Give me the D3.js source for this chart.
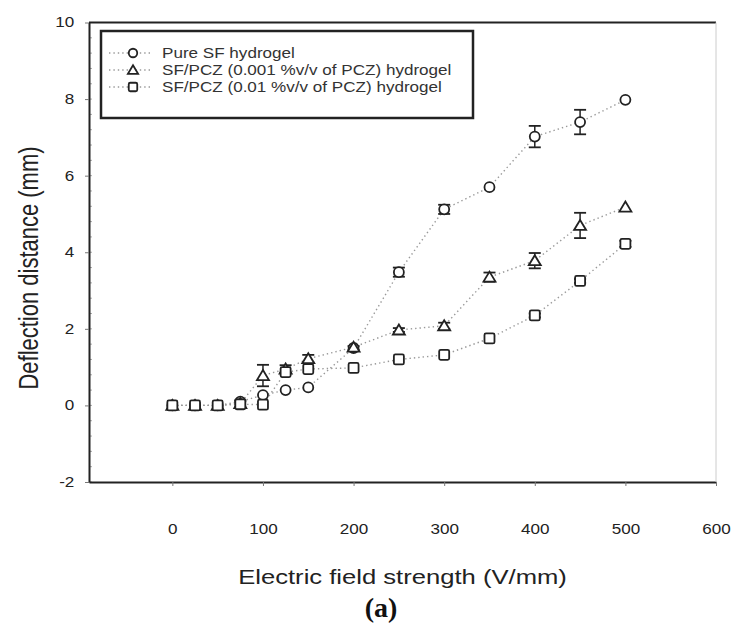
<!DOCTYPE html>
<html>
<head>
<meta charset="utf-8">
<script src="https://cdn.jsdelivr.net/npm/d3@7"></script>
<style>
  body { margin: 0; background: #fff; }
</style>
</head>
<body>
<script>
// field strength (V/mm)
const fieldStrength = [0, 25, 50, 75, 100, 125, 150, 200, 250, 300, 350, 400, 450, 500];

// deflection (mm) and error bars per sample
const pureSF = [0, 0, 0, 0.1, 0.27, 0.4, 0.47, 1.5, 3.48, 5.12, 5.7, 7.02, 7.4, 7.98];
const pureSFErr = [0, 0, 0, 0, 0, 0, 0, 0.05, 0.12, 0.12, 0, 0.28, 0.32, 0];
const pcz001 = [0, 0, 0, 0.05, 0.78, 0.95, 1.22, 1.52, 1.97, 2.08, 3.35, 3.78, 4.7, 5.18];
const pcz001Err = [0, 0, 0, 0, 0.28, 0.1, 0.1, 0, 0.05, 0.08, 0.12, 0.2, 0.33, 0];
const pcz01 = [0, 0, 0, 0.03, 0.02, 0.87, 0.95, 0.98, 1.2, 1.32, 1.75, 2.35, 3.25, 4.22];
const pcz01Err = [0, 0, 0, 0.1, 0, 0, 0, 0, 0, 0, 0, 0.05, 0.05, 0.08];

const seriesNames = [
  "Pure SF hydrogel",
  "SF/PCZ (0.001 %v/v of PCZ) hydrogel",
  "SF/PCZ (0.01 %v/v of PCZ) hydrogel"
];
const xTicks = [0, 100, 200, 300, 400, 500, 600];
const yTicks = [-2, 0, 2, 4, 6, 8, 10];

const width = 731, height = 624;
const stretch = 1.22; // scan is wider than tall
const sans = '"Liberation Sans", Arial, sans-serif';

const svg = d3.select('body')
  .append('svg')
  .attr('width', width)
  .attr('height', height)
  .style('font-family', sans);

const x = d3.scaleLinear().domain([-92, 600]).range([89, 716]);
const y = d3.scaleLinear().domain([-2, 10]).range([482, 22.5]);

const series = [
  { name: seriesNames[0], values: pureSF, err: pureSFErr, shape: 'circle' },
  { name: seriesNames[1], values: pcz001, err: pcz001Err, shape: 'triangle' },
  { name: seriesNames[2], values: pcz01, err: pcz01Err, shape: 'square' }
];

function drawMarker(g, shape, cx, cy, k = 1) {
  if (shape === 'circle') {
    g.append('circle')
      .attr('cx', cx).attr('cy', cy).attr('r', 5 * k)
      .attr('fill', '#fff').attr('stroke', '#222').attr('stroke-width', 1.8);
  } else if (shape === 'triangle') {
    g.append('path')
      .attr('d', `M${cx},${cy - 5.5 * k}L${cx + 6 * k},${cy + 4.5 * k}L${cx - 6 * k},${cy + 4.5 * k}Z`)
      .attr('fill', '#fff').attr('stroke', '#222').attr('stroke-width', 1.8);
  } else {
    g.append('rect')
      .attr('x', cx - 5 * k).attr('y', cy - 5 * k).attr('width', 10 * k).attr('height', 10 * k)
      .attr('rx', 1.5)
      .attr('fill', '#fff').attr('stroke', '#222').attr('stroke-width', 1.8);
  }
}

// minor ticks inside the left axis
const minorY = d3.range(-2, 10.01, 0.4);
svg.append('g')
  .selectAll('line')
  .data(minorY)
  .join('line')
  .attr('x1', 89).attr('x2', 92)
  .attr('y1', d => y(d)).attr('y2', d => y(d))
  .attr('stroke', '#aaa').attr('stroke-width', 1);

// x axis
const xAxis = svg.append('g')
  .attr('transform', `translate(0,${y(-2)})`)
  .call(d3.axisBottom(x).tickValues(xTicks).tickSize(4).tickPadding(38).tickSizeOuter(0));
xAxis.select('.domain').attr('stroke', '#222').attr('stroke-width', 2);
xAxis.selectAll('.tick line').attr('stroke', '#777');
xAxis.selectAll('.tick text')
  .attr('font-size', 14)
  .attr('font-family', sans)
  .attr('fill', '#222')
  .attr('transform', `scale(${stretch},1)`);

// y axis (hyphen minus like the original)
const yAxis = svg.append('g')
  .attr('transform', `translate(${x(-92)},0)`)
  .call(d3.axisLeft(y).tickValues(yTicks).tickFormat(d => String(d))
    .tickSize(4).tickPadding(8).tickSizeOuter(0));
yAxis.select('.domain').attr('stroke', '#222').attr('stroke-width', 2);
yAxis.selectAll('.tick line').attr('stroke', '#777');
yAxis.selectAll('.tick text')
  .attr('font-size', 14)
  .attr('font-family', sans)
  .attr('fill', '#222')
  .attr('transform', `scale(${stretch},1)`);

// top frame line
svg.append('line')
  .attr('x1', x(-92)).attr('x2', x(600))
  .attr('y1', y(10)).attr('y2', y(10))
  .attr('stroke', '#222').attr('stroke-width', 2);
svg.append('line')
  .attr('x1', x(600)).attr('x2', x(600))
  .attr('y1', y(10)).attr('y2', y(-2))
  .attr('stroke', '#ccc').attr('stroke-width', 1);

const line = d3.line()
  .x((d, i) => x(fieldStrength[i]))
  .y(d => y(d));

// dotted connecting lines
series.forEach(s => {
  svg.append('path')
    .datum(s.values)
    .attr('d', line)
    .attr('fill', 'none')
    .attr('stroke', '#999')
    .attr('stroke-width', 1.4)
    .attr('stroke-dasharray', '1.4,3');
});

// error bars and markers
series.forEach(s => {
  const g = svg.append('g');
  s.values.forEach((v, i) => {
    const e = s.err[i];
    const cx = x(fieldStrength[i]);
    if (e > 0) {
      g.append('line')
        .attr('x1', cx).attr('x2', cx)
        .attr('y1', y(v - e)).attr('y2', y(v + e))
        .attr('stroke', '#222').attr('stroke-width', 1.5);
      [v - e, v + e].forEach(c => {
        g.append('line')
          .attr('x1', cx - 6).attr('x2', cx + 6)
          .attr('y1', y(c)).attr('y2', y(c))
          .attr('stroke', '#222').attr('stroke-width', 1.8);
      });
    }
    drawMarker(g, s.shape, cx, y(v));
  });
});

// legend
const legend = svg.append('g');
legend.append('rect')
  .attr('x', 101).attr('y', 31)
  .attr('width', 372).attr('height', 87)
  .attr('fill', '#fff')
  .attr('stroke', '#222').attr('stroke-width', 2.5);

series.forEach((s, i) => {
  const ly = 53 + i * 17;
  legend.append('line')
    .attr('x1', 109).attr('x2', 152)
    .attr('y1', ly).attr('y2', ly)
    .attr('stroke', '#999').attr('stroke-width', 1.4)
    .attr('stroke-dasharray', '1.4,3');
  drawMarker(legend, s.shape, 133, ly, 0.85);
  legend.append('text')
    .attr('transform', `translate(162,${ly + 5}) scale(${stretch},1)`)
    .attr('font-size', 14)
    .attr('fill', '#333')
    .text(s.name);
});

// axis titles
svg.append('text')
  .attr('transform', `translate(${(x(-92) + x(600)) / 2},584) scale(${stretch},1)`)
  .attr('text-anchor', 'middle')
  .attr('font-size', 21)
  .attr('fill', '#222')
  .text('Electric field strength (V/mm)');

svg.append('text')
  .attr('transform', `translate(38,268) rotate(-90) scale(1,${stretch})`)
  .attr('text-anchor', 'middle')
  .attr('font-size', 22)
  .attr('fill', '#222')
  .text('Deflection distance (mm)');

svg.append('text')
  .attr('x', 381).attr('y', 617)
  .attr('text-anchor', 'middle')
  .attr('font-family', '"Liberation Serif", "Times New Roman", serif')
  .attr('font-weight', 'bold')
  .attr('font-size', 28)
  .attr('fill', '#111')
  .text('(a)');
</script>
</body>
</html>
